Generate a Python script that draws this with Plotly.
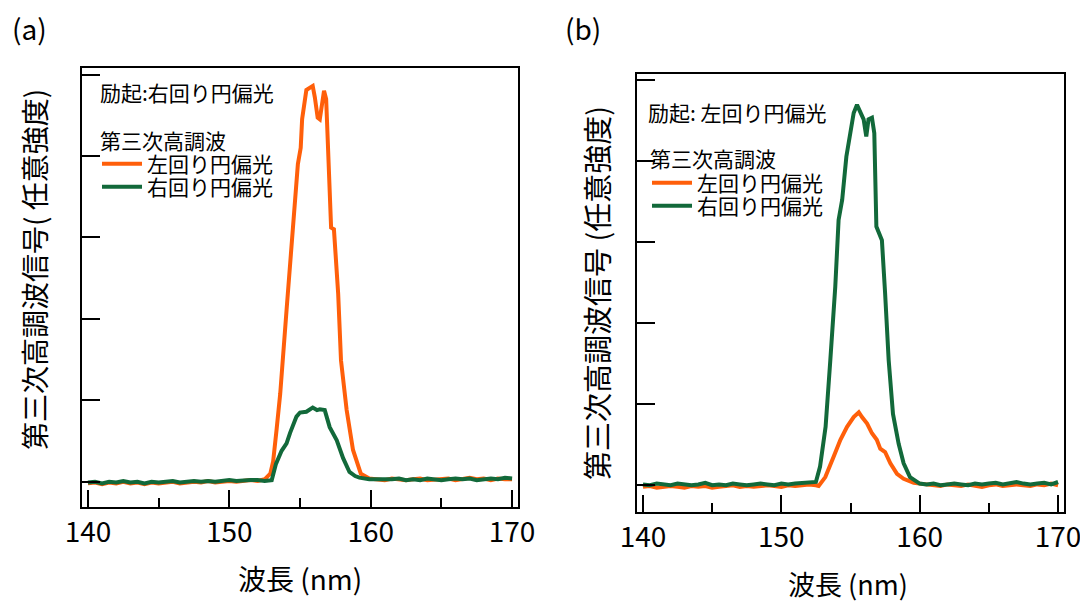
import plotly.graph_objects as go

# ---------------- data ----------------
# shared baseline wavelength grids (nm)
wl_left = [140.0, 140.5, 141.0, 141.5, 142.0, 142.5, 143.0, 143.5, 144.0, 144.5,
           145.0, 145.5, 146.0, 146.5, 147.0, 147.5, 148.0, 148.5, 149.0, 149.5,
           150.0, 150.5, 151.0, 151.5, 152.0]
wl_right = [160.5, 161.0, 161.5, 162.0, 162.5, 163.0, 163.5, 164.0, 164.5, 165.0,
            165.5, 166.0, 166.5, 167.0, 167.5, 168.0, 168.5, 169.0, 169.5, 170.0]

# (a) excitation: right circular; SHG left circular (orange)
wl_a_left_peak = [152.5, 152.9, 153.1, 153.35, 153.6, 154.05, 154.5, 154.85, 155.05, 155.15,
                  155.45, 155.7, 155.9, 156.05, 156.25, 156.4, 156.55, 156.7, 156.85, 157.0,
                  157.2, 157.4, 157.7, 157.9, 158.3, 158.75, 159.3, 159.9]
sig_a_left = ([-0.02, -0.01, -0.03, -0.01, -0.02, 0.00, -0.02, -0.01, -0.03, -0.01,
               -0.02, -0.01, 0.00, -0.02, -0.01, 0.00, -0.01, 0.01, -0.01, 0.00,
               0.01, 0.00, 0.01, 0.02, 0.01]
              + [0.03, 0.10, 0.25, 0.65, 1.08, 2.11, 3.13, 3.90, 4.10, 4.45,
                 4.81, 4.84, 4.86, 4.72, 4.47, 4.45, 4.65, 4.80, 4.70, 3.95,
                 3.12, 3.10, 2.31, 1.49, 0.88, 0.39, 0.10, 0.04]
              + [0.03, 0.02, 0.04, 0.03, 0.02, 0.03, 0.04, 0.02, 0.03, 0.03,
                 0.04, 0.02, 0.03, 0.05, 0.03, 0.04, 0.02, 0.04, 0.03, 0.03])

# (a) SHG right circular (green)
wl_a_right_peak = [152.5, 153.0, 153.3, 153.7, 154.05, 154.3, 154.5, 154.75, 155.0, 155.45,
                   155.9, 156.2, 156.4, 156.75, 157.1, 157.35, 157.6, 158.05, 158.5, 158.9,
                   159.2, 159.9]
sig_a_right = ([-0.01, 0.00, -0.02, 0.00, -0.01, 0.01, -0.01, 0.00, -0.02, 0.00,
                -0.01, 0.00, 0.01, -0.01, 0.00, 0.01, 0.00, 0.01, 0.00, 0.01,
                0.02, 0.01, 0.02, 0.02, 0.02]
               + [0.01, 0.02, 0.22, 0.38, 0.47, 0.60, 0.70, 0.80, 0.85, 0.86,
                  0.91, 0.88, 0.89, 0.88, 0.67, 0.58, 0.51, 0.29, 0.12, 0.07,
                  0.05, 0.03]
               + [0.03, 0.02, 0.03, 0.04, 0.02, 0.03, 0.02, 0.04, 0.03, 0.02,
                  0.03, 0.04, 0.03, 0.04, 0.02, 0.03, 0.04, 0.03, 0.05, 0.04])

# (b) excitation: left circular; SHG left circular (orange)
wl_b_left_peak = [152.5, 152.7, 153.18, 153.5, 153.78, 154.27, 154.75, 155.23, 155.6, 155.83,
                  156.2, 156.55, 156.9, 157.15, 157.5, 157.88, 158.36, 158.84, 159.57, 160.0]
sig_b_left = ([-0.02, -0.01, -0.03, -0.02, -0.01, -0.02, -0.03, -0.01, -0.02, -0.01,
               -0.03, -0.02, -0.01, 0.00, -0.02, -0.01, -0.02, -0.01, 0.00, -0.01,
               -0.02, 0.00, -0.01, 0.00, 0.01]
              + [0.00, -0.01, 0.10, 0.22, 0.35, 0.56, 0.72, 0.84, 0.90, 0.84,
                 0.76, 0.64, 0.56, 0.45, 0.41, 0.27, 0.14, 0.08, 0.03, 0.02]
              + [0.01, 0.00, -0.01, 0.01, 0.00, -0.01, 0.01, 0.00, -0.02, 0.00,
                 0.01, -0.01, 0.00, 0.01, 0.00, -0.01, 0.01, 0.00, 0.02, 0.00])

# (b) SHG right circular (green)
wl_b_right_peak = [152.5, 152.8, 153.2, 153.54, 153.9, 154.14, 154.4, 154.7, 154.99, 155.23,
                   155.47, 155.7, 155.95, 156.14, 156.3, 156.55, 156.72, 156.87, 157.27, 157.5,
                   157.76, 158.07, 158.48, 158.84, 159.3, 160.0]
sig_b_right = ([0.01, 0.00, 0.02, 0.01, 0.00, 0.02, 0.01, 0.00, 0.01, 0.03,
                0.00, 0.01, 0.00, 0.02, 0.01, 0.00, 0.01, 0.02, 0.01, 0.00,
                0.02, 0.01, 0.02, 0.03, 0.04]
               + [0.04, 0.23, 0.72, 1.54, 2.45, 3.27, 3.52, 4.05, 4.34, 4.59,
                  4.69, 4.59, 4.51, 4.30, 4.51, 4.53, 4.34, 3.19, 3.02, 2.37,
                  1.54, 0.88, 0.51, 0.27, 0.10, 0.02]
               + [0.01, 0.02, 0.00, 0.01, 0.02, 0.01, 0.00, 0.02, 0.01, 0.02,
                  0.03, 0.01, 0.02, 0.04, 0.02, 0.01, 0.02, 0.03, 0.01, 0.04])

x_ticks = [140, 150, 160, 170]
x_minor = [145, 155, 165]
y_ticks = [0, 1, 2, 3, 4, 5]

name_left = "左回り円偏光"
name_right = "右回り円偏光"
legend_title = "第三次高調波"

ORANGE = "#FF5F0A"
GREEN = "#12693A"
FONT = "Noto Sans CJK JP"
# the page body has an 8px margin: the figure covers the window from (8, 8)
OFF = 8
W, H = 1088 - OFF, 603 - OFF

fig = go.Figure()
fig.add_trace(go.Scatter(x=wl_left + wl_a_left_peak + wl_right, y=sig_a_left, mode="lines",
                         name=name_left, line=dict(color=ORANGE, width=4), xaxis="x", yaxis="y",
                         legend="legend"))
fig.add_trace(go.Scatter(x=wl_left + wl_a_right_peak + wl_right, y=sig_a_right, mode="lines",
                         name=name_right, line=dict(color=GREEN, width=4), xaxis="x", yaxis="y",
                         legend="legend3"))
fig.add_trace(go.Scatter(x=wl_left + wl_b_left_peak + wl_right, y=sig_b_left, mode="lines",
                         name=name_left, line=dict(color=ORANGE, width=4), xaxis="x2", yaxis="y2",
                         legend="legend2"))
fig.add_trace(go.Scatter(x=wl_left + wl_b_right_peak + wl_right, y=sig_b_right, mode="lines",
                         name=name_right, line=dict(color=GREEN, width=4), xaxis="x2", yaxis="y2",
                         legend="legend4"))

def xaxis(domain, rng, anchor):
    return dict(domain=domain, range=rng, anchor=anchor, tickvals=x_ticks, ticks="inside",
                ticklen=17, tickwidth=1.5, tickcolor="black", showline=True, linecolor="black",
                linewidth=1.5, mirror=True, showgrid=False, zeroline=False, automargin=False,
                tickfont=dict(family=FONT, size=28, color="black"),
                minor=dict(tickvals=x_minor, ticks="inside", ticklen=9, tickwidth=1.5,
                           tickcolor="black", showgrid=False))

def yaxis(domain, rng, anchor):
    return dict(domain=domain, range=rng, anchor=anchor, tickvals=y_ticks, ticks="inside",
                ticklen=18, tickwidth=1.5, tickcolor="black", showline=True, linecolor="black",
                linewidth=1.5, mirror=True, showgrid=False, zeroline=False, automargin=False,
                showticklabels=False)

def px(xp):
    return (xp - OFF) / W

def py(yp):
    return 1 - (yp - OFF) / H

def ann(text, x, y, size, xanchor="left", angle=0):
    return dict(text=text, x=px(x), y=py(y), xref="paper", yref="paper", showarrow=False,
                xanchor=xanchor, yanchor="middle", textangle=angle,
                font=dict(family=FONT, size=size, color="black"))

def leg(x, y):
    return dict(x=px(x), y=py(y), bgcolor="rgba(0,0,0,0)", xanchor="left", yanchor="middle",
                font=dict(family=FONT, size=21, color="black"), itemwidth=40,
                borderwidth=0)

fig.update_layout(
    width=W, height=H, margin=dict(l=0, r=0, t=0, b=0, pad=0, autoexpand=False),
    paper_bgcolor="white", plot_bgcolor="white", showlegend=True,
    xaxis=xaxis([px(82), px(518)], [139.58, 170.42], "y"),
    yaxis=yaxis([py(507), py(68)], [-0.31, 5.08], "x"),
    xaxis2=xaxis([px(637), px(1064)], [139.57, 170.43], "y2"),
    yaxis2=yaxis([py(512), py(74)], [-0.33, 5.07], "x2"),
    legend=leg(97, 164),
    legend3=leg(97, 187),
    legend2=leg(647, 183),
    legend4=leg(647, 206),
    annotations=[
        ann("(a)", 10, 28, 28),
        ann("(b)", 563, 28, 28),
        ann("励起:右回り円偏光", 98, 92, 21),
        ann("励起: 左回り円偏光", 646, 112, 21),
        ann(legend_title, 98, 140, 21),
        ann(legend_title, 648, 158, 21),
        ann("第三次高調波信号( 任意強度)", 34, 270, 28, "center", -90),
        ann("第三次高調波信号 (任意強度)", 596, 293, 29, "center", -90),
        ann("波長 (nm)", 300, 578, 28, "center"),
        ann("波長 (nm)", 848, 583, 27, "center"),
    ],
)

fig.write_html("out.html")
